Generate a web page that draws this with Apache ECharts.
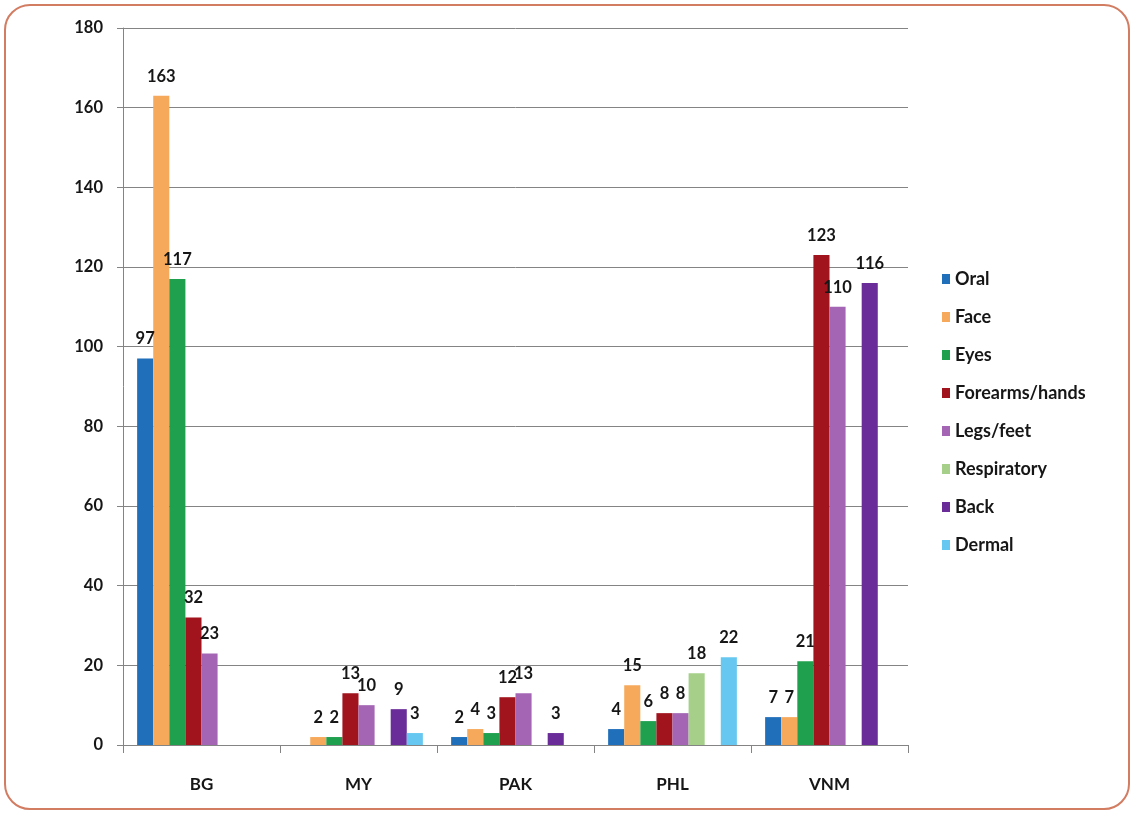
<!DOCTYPE html>
<html>
<head>
<meta charset="utf-8">
<script src="https://cdn.jsdelivr.net/npm/echarts@6/dist/echarts.min.js"></script>
<style>
  html, body { margin: 0; padding: 0; background: #fff; }
  #frame {
    position: absolute; left: 4px; top: 4px; width: 1126px; height: 806px;
    border: 2px solid #d27c62; border-radius: 26px; box-sizing: border-box;
  }
  #chart { position: absolute; left: 0; top: 0; width: 1135px; height: 815px; }
</style>
</head>
<body>
<div id="frame"></div>
<div id="chart"></div>
<script>
// Countries on the category axis
const countries = ['BG', 'MY', 'PAK', 'PHL', 'VNM'];

// Exposure counts per body area (null = no cases reported)
const oral        = [97,   null, 2,    4,    7];
const face        = [163,  2,    4,    15,   7];
const eyes        = [117,  2,    3,    6,    21];
const forearms    = [32,   13,   12,   8,    123];
const legs        = [23,   10,   13,   8,    110];
const respiratory = [null, null, null, 18,   null];
const back        = [null, 9,    3,    null, 116];
const dermal      = [null, 3,    null, 22,   null];

const seriesDefs = [
  { name: 'Oral',           data: oral,        color: '#1f6fba' },
  { name: 'Face',           data: face,        color: '#f7a95b' },
  { name: 'Eyes',           data: eyes,        color: '#1fa04e' },
  { name: 'Forearms/hands', data: forearms,    color: '#a1131d' },
  { name: 'Legs/feet',      data: legs,        color: '#a466b4' },
  { name: 'Respiratory',    data: respiratory, color: '#a6d08a' },
  { name: 'Back',           data: back,        color: '#6a2c99' },
  { name: 'Dermal',         data: dermal,      color: '#66c8f0' }
];

const FONT = 'Lato, "Noto Sans", sans-serif';
const TEXT = '#161616';

const chart = echarts.init(document.getElementById('chart'), null, { renderer: 'canvas' });

chart.setOption({
  animation: false,
  backgroundColor: 'transparent',
  grid: { left: 123, right: 227, top: 28, bottom: 70 },
  legend: {
    orient: 'vertical',
    left: 937,
    top: 265,
    itemWidth: 8,
    itemHeight: 10,
    itemGap: 20,
    icon: 'rect',
    textStyle: { fontFamily: FONT, fontWeight: 'bold', fontSize: 18, color: TEXT, lineHeight: 18 },
    data: seriesDefs.map(s => s.name)
  },
  xAxis: {
    type: 'category',
    data: countries,
    axisLine: { lineStyle: { color: '#848484', width: 1 } },
    axisTick: { show: true, length: 8, lineStyle: { color: '#848484' } },
    axisLabel: { margin: 31, fontFamily: FONT, fontWeight: 'bold', fontSize: 17, color: TEXT }
  },
  yAxis: {
    type: 'value',
    min: 0,
    max: 180,
    interval: 20,
    axisLine: { show: true, lineStyle: { color: '#848484', width: 1 } },
    axisTick: { show: true, length: 6, lineStyle: { color: '#848484' } },
    splitLine: { lineStyle: { color: '#848484', width: 1 } },
    axisLabel: { margin: 20, fontFamily: FONT, fontWeight: 'bold', fontSize: 16.5, color: TEXT }
  },
  series: seriesDefs.map(s => ({
    type: 'bar',
    name: s.name,
    data: s.data,
    barGap: '0%',
    barCategoryGap: '18%',
    itemStyle: { color: s.color },
    label: {
      show: true,
      position: 'top',
      distance: 11,
      fontFamily: FONT,
      fontWeight: 'bold',
      fontSize: 16.5,
      color: TEXT
    }
  }))
});
</script>
</body>
</html>
